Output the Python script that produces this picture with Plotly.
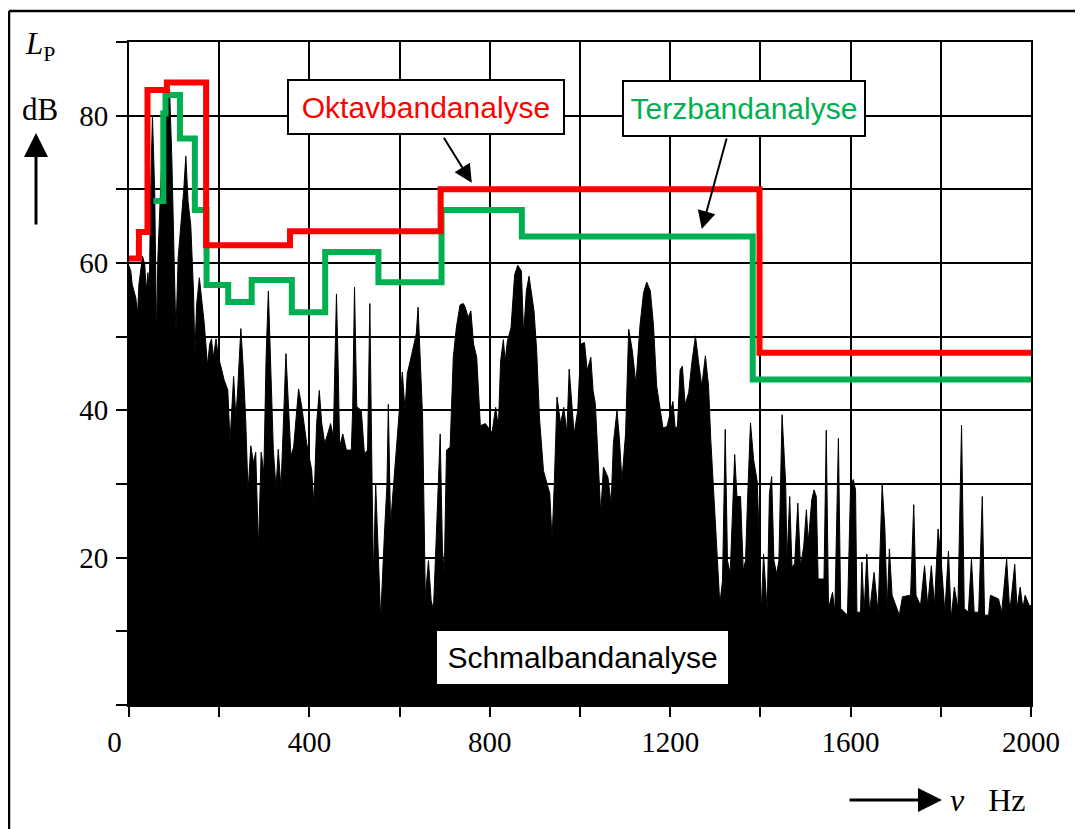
import plotly.graph_objects as go

# Schmalbandanalyse (narrow band spectrum)
freq_hz = [0, 4, 7, 11, 15, 19, 22, 30, 35, 38, 42, 45, 48, 52, 57, 61, 64, 69, 72, 78,
           84, 90, 95, 100, 104, 109, 115, 121, 126, 131, 137, 143, 146, 150, 156, 161, 167, 174, 179, 183,
           187, 193, 198, 204, 211, 219, 224, 232, 237, 241, 248, 254, 259, 264, 270, 276, 281, 287, 293, 299,
           304, 309, 315, 320, 326, 331, 337, 343, 348, 353, 359,
           365, 376, 383, 394, 405, 410, 416, 422, 427, 434, 442, 447, 453, 457, 460, 464, 467, 474, 482, 493,
           496, 500, 505, 515, 522, 529, 534, 539, 542, 547, 553, 558, 566, 572, 575, 580, 584, 591, 599, 606,
           612, 617, 624, 631, 637, 641, 646, 651, 657, 664, 670, 675, 683, 690, 695, 699, 704, 712, 719, 726,
           734, 741, 745, 752, 758, 764, 771, 779, 790, 805, 813, 819, 824, 830, 834, 839, 847, 855, 862, 870,
           875, 881, 887, 892, 898, 904, 910, 919, 927, 933, 938, 943, 949, 957, 964, 971, 976, 981, 987, 995,
           1002, 1010, 1016, 1024, 1029, 1034, 1040, 1046, 1052, 1062, 1069, 1074, 1082, 1087, 1093, 1101, 1108, 1116, 1124,
           1133, 1141, 1148, 1156, 1163, 1170, 1178, 1184, 1193, 1200, 1206, 1211, 1216, 1222, 1227, 1233, 1241, 1248, 1256, 1263,
           1270, 1278, 1285, 1290, 1298, 1304, 1310, 1316, 1322, 1327, 1333, 1339, 1343, 1348, 1356, 1362, 1367, 1372, 1378, 1385,
           1393, 1399, 1402, 1407, 1415, 1420, 1425, 1430, 1436, 1441, 1448, 1456, 1459, 1465, 1470, 1476, 1483, 1489, 1496, 1502,
           1506, 1514, 1519, 1524, 1528, 1541, 1546, 1551, 1560, 1565, 1573, 1578, 1593, 1600, 1606, 1611, 1614, 1622, 1625, 1630,
           1636, 1642, 1652, 1661, 1670, 1676, 1681, 1686, 1692, 1708, 1715, 1733, 1740, 1745, 1755, 1764, 1771, 1779, 1786, 1794,
           1801, 1809, 1817, 1823, 1830, 1838, 1846, 1852, 1861, 1868, 1874, 1884, 1892, 1897, 1906, 1910, 1928, 1935, 1946, 1953,
           1964, 1969, 1976, 1982, 1987, 1996, 2000]
level_db = [59.6, 58.9, 57.1, 56.2, 55.3, 53.1, 57.1, 60.9, 59.8, 56.2, 58.7, 56.2, 69.6, 80.0, 69.6, 50.2, 60.7, 68.3, 72.8, 77.7,
            81.7, 83.5, 74.1, 60.7, 50.4, 60.7, 65.1, 69.6, 74.5, 68.3, 65.1, 56.2, 47.7, 54.4, 58.0, 55.3, 51.7, 46.1, 49.0, 49.7,
            47.2, 49.7, 47.2, 45.9, 44.1, 42.8, 35.8, 44.6, 39.0, 42.8, 51.1, 45.0, 38.3, 28.9, 35.2, 32.9, 34.3, 21.3, 34.3, 31.6,
            47.2, 56.2, 42.8, 34.7, 29.4, 34.7, 29.4, 38.3, 47.7, 41.4, 33.8,
            35.0, 42.9, 40.5, 35.5, 31.9, 27.3, 38.2, 42.7, 38.4, 35.5, 37.1, 38.2, 36.4, 45.4, 55.8, 45.4, 35.0, 36.8, 34.6, 34.6,
            40.5, 56.7, 40.5, 40.0, 34.1, 34.6, 54.5, 30.0, 17.4, 30.0, 19.6, 11.7, 22.8, 30.0, 40.8, 24.2, 27.8, 33.7, 39.1, 45.2,
            40.0, 45.0, 46.8, 49.0, 50.4, 54.0, 45.9, 39.1, 14.7, 19.6, 14.2, 12.9, 25.5, 36.8, 21.0, 17.9, 34.6, 35.0, 47.2, 51.3,
            54.3, 54.5, 54.1, 52.6, 53.5, 49.0, 47.2, 37.9, 38.2, 37.0, 40.4, 37.7, 46.7, 49.6, 46.7, 49.4, 51.2, 58.4, 59.7, 58.9,
            50.3, 56.2, 58.2, 56.2, 53.5, 48.1, 39.1, 31.8, 30.0, 28.7, 22.4, 30.0, 41.8, 38.2, 40.4, 37.0, 45.6, 41.3, 36.8, 40.0,
            49.0, 49.2, 45.4, 47.2, 42.7, 40.9, 32.7, 26.0, 32.3, 30.9, 27.3, 35.5, 40.0, 36.4, 30.5, 36.8, 51.0, 48.1, 43.6,
            51.5, 56.0, 57.4, 56.2, 51.5, 43.3, 39.6, 37.6, 37.8, 39.6, 41.2, 37.6, 37.8, 45.5, 46.0, 40.8, 42.4, 46.5, 50.1, 46.5,
            43.3, 47.4, 43.3, 36.0, 27.8, 20.5, 13.7, 16.9, 37.4, 19.6, 17.8, 28.7, 34.0, 28.3, 28.3, 18.3, 19.6, 28.7, 38.3, 33.3,
            30.3, 19.6, 12.6, 20.5, 12.8, 28.7, 31.0, 19.6, 17.8, 19.6, 39.4, 30.1, 19.6, 28.3, 18.7, 19.2, 27.4, 18.7, 21.5, 26.5,
            22.1, 27.9, 29.2, 28.3, 17.1, 17.1, 37.3, 13.1, 15.3, 12.6, 36.2, 13.1, 12.2, 29.7, 30.6, 29.2, 12.6, 12.6, 19.4, 12.6,
            20.5, 12.6, 18.0, 12.6, 29.9, 23.9, 13.1, 21.2, 14.9, 12.2, 14.7, 14.9, 27.2, 14.9, 13.5, 18.9, 13.5, 18.9, 13.5, 23.9,
            19.4, 12.6, 20.9, 11.7, 16.0, 13.1, 38.0, 13.1, 12.6, 19.8, 12.6, 12.6, 28.3, 12.2, 12.2, 14.9, 14.4, 12.6, 19.8, 12.6,
            19.1, 13.1, 16.0, 13.1, 14.9, 13.5, 13.5]

# Terzbandanalyse (third octave steps): band start, level
terz_x = [54, 76, 81, 113, 146, 172, 220, 272, 361, 435, 553, 693, 871, 1383, 2000]
terz_y = [68.4, 80.3, 82.8, 76.9, 67.2, 57.0, 54.7, 57.7, 53.3, 61.5, 57.4, 67.2, 63.6, 44.2, 44.2]

# Oktavbandanalyse (octave steps)
okt_x = [0, 22, 41, 84, 171, 357, 691, 1398, 2000]
okt_y = [60.6, 64.2, 83.5, 84.5, 62.4, 64.3, 70.0, 47.8, 47.8]

x_ticks = [0, 400, 800, 1200, 1600, 2000]
x_ticktext = ["0\u00a0\u00a0\u00a0\u00a0", "400", "800", "1200", "1600", "2000"]
y_ticks = [20, 40, 60, 80]

# the page body adds 8px, so the figure is 8px smaller than the window
W, H = 1075, 821
L, R, T, B = 121, 52, 34, 124
PL, PT, PW, PH = 129, 42, 902, 663   # plot area in window pixels


def px(x, y):
    # window pixel position -> paper coordinates (for labels outside the plot)
    return (x - PL) / PW, (PT + PH - y) / PH


fig = go.Figure()
fig.add_trace(go.Scatter(x=freq_hz, y=level_db, mode='lines', fill='tozeroy',
                         fillcolor='black', line=dict(color='black', width=1)))
fig.add_trace(go.Scatter(x=terz_x, y=terz_y, mode='lines',
                         line=dict(color='#00B050', width=6, shape='hv')))
fig.add_trace(go.Scatter(x=okt_x, y=okt_y, mode='lines',
                         line=dict(color='#FF0000', width=6, shape='hv')))

axis_common = dict(
    ticks='outside', tickwidth=2, tickcolor='black',
    showgrid=True, gridcolor='black', gridwidth=1.8,
    showline=True, linecolor='black', linewidth=2, mirror=True,
    zeroline=False,
    tickfont=dict(family='Liberation Serif', size=29, color='black'),
)

fig.update_xaxes(range=[0, 2000], tickmode='array', tickvals=x_ticks, ticktext=x_ticktext,
                 ticklen=10, ticklabelstandoff=0,
                 minor=dict(dtick=200, tick0=0, ticks='outside', ticklen=10, tickwidth=2,
                            tickcolor='black', showgrid=True, gridcolor='black', gridwidth=1.8),
                 **axis_common)
fig.update_yaxes(range=[0, 90], tickmode='array', tickvals=y_ticks,
                 ticklen=11, ticklabelstandoff=2,
                 minor=dict(dtick=10, tick0=0, ticks='outside', ticklen=11, tickwidth=2,
                            tickcolor='black', showgrid=True, gridcolor='black', gridwidth=1.8),
                 **axis_common)

box_font = 'Liberation Sans'
annotations = [
    dict(x=658, y=81.2, text='Oktavbandanalyse', showarrow=False,
         font=dict(family=box_font, size=30, color='#FF0000'),
         width=260, height=38, borderpad=7,
         bgcolor='white', bordercolor='black', borderwidth=2),
    dict(x=1364, y=81.0, text='Terzbandanalyse', showarrow=False,
         font=dict(family=box_font, size=30, color='#00B050'),
         width=226, height=39, borderpad=7,
         bgcolor='white', bordercolor='black', borderwidth=2),
    dict(x=1005, y=6.5, text='Schmalbandanalyse', showarrow=False,
         font=dict(family=box_font, size=30, color='black'),
         width=291, height=53, borderpad=0,
         bgcolor='white', borderwidth=0),
    # arrows from the boxes to the step lines
    dict(x=760, y=70.9, ax=696, ay=77.2, axref='x', ayref='y', text='', showarrow=True,
         arrowhead=2, arrowsize=1.8, arrowwidth=2, arrowcolor='black'),
    dict(x=1270, y=64.6, ax=1326, ay=77.1, axref='x', ayref='y', text='', showarrow=True,
         arrowhead=2, arrowsize=1.8, arrowwidth=2, arrowcolor='black'),
]

# axis titles outside the plot
lx, ly = px(40, 46)
annotations.append(dict(x=lx, y=ly, xref='paper', yref='paper', xanchor='center', yanchor='middle',
                        text='<i>L</i><sub>P</sub>', showarrow=False,
                        font=dict(family='Liberation Serif', size=31, color='black')))
dx, dy = px(40, 110)
annotations.append(dict(x=dx, y=dy, xref='paper', yref='paper', xanchor='center', yanchor='middle',
                        text='dB', showarrow=False,
                        font=dict(family='Liberation Serif', size=31, color='black')))
ax_, ay_ = px(36, 133)
annotations.append(dict(x=ax_, y=ay_, xref='paper', yref='paper', ax=0, ay=93, text='',
                        showarrow=True, arrowhead=2, arrowsize=1.6, arrowwidth=3, arrowcolor='black'))
hx, hy = px(942, 800)
annotations.append(dict(x=hx, y=hy, xref='paper', yref='paper', ax=-94, ay=0, text='',
                        showarrow=True, arrowhead=2, arrowsize=1.6, arrowwidth=3, arrowcolor='black'))
nx, ny = px(948, 800)
annotations.append(dict(x=nx, y=ny, xref='paper', yref='paper', xanchor='left', yanchor='middle',
                        text='<i>\u03bd</i>\u2002\u00a0Hz', showarrow=False,
                        font=dict(family='Liberation Serif', size=32, color='black')))

# outer frame (top and left edge visible)
fx0, fy0 = px(9, 11)
fx1, _ = px(1090, 11)
_, fy1 = px(9, 840)
shapes = [
    dict(type='line', xref='paper', yref='paper', x0=fx0, y0=fy0, x1=fx1, y1=fy0,
         line=dict(color='black', width=2.5)),
    dict(type='line', xref='paper', yref='paper', x0=fx0, y0=fy0, x1=fx0, y1=fy1,
         line=dict(color='black', width=2.5)),
]

fig.update_layout(
    width=W, height=H,
    margin=dict(l=L, r=R, t=T, b=B),
    paper_bgcolor='white', plot_bgcolor='white',
    showlegend=False,
    annotations=annotations,
    shapes=shapes,
)

fig.write_html("out.html")
